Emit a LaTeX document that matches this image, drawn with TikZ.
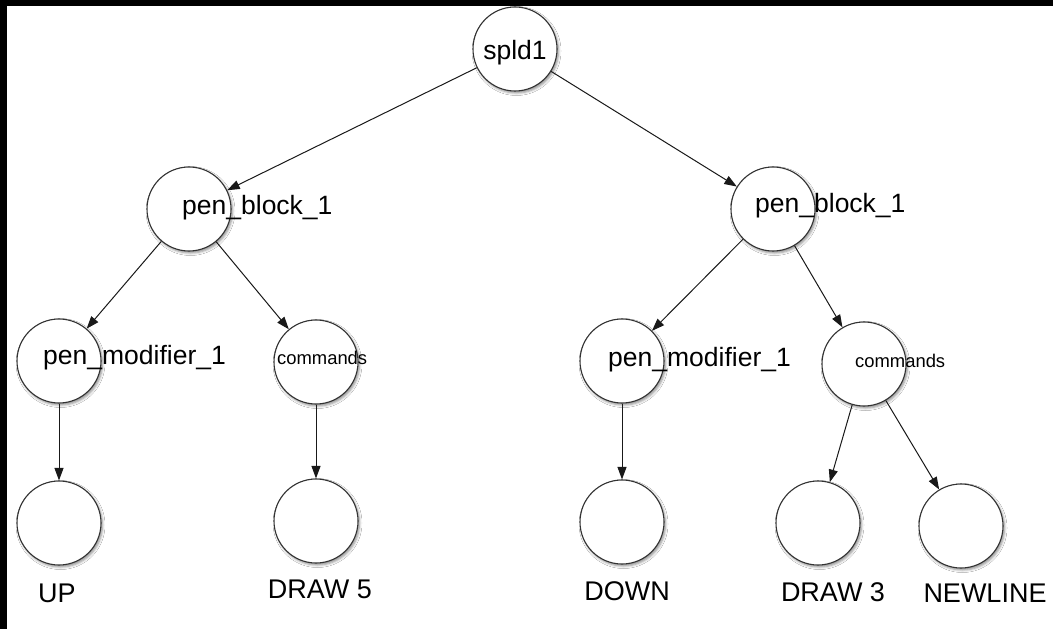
\documentclass[tikz,border=0pt]{standalone}
\usepackage{fontspec}
\setmainfont{Liberation Sans}
\usetikzlibrary{arrows.meta,shadows.blur}
\begin{document}
\begin{tikzpicture}[x=1bp,y=-1bp,
  treenode/.style={circle, draw=black!80, line width=1.1bp, fill=white,
    minimum size=84bp, inner sep=0pt,
    blur shadow={shadow xshift=1.5bp, shadow yshift=-2bp,
      shadow blur radius=2.5bp, shadow opacity=45}},
  bigtext/.style={inner sep=0pt, text=black,
    font=\fontsize{26.5bp}{30bp}\selectfont},
  leaftext/.style={inner sep=0pt, text=black,
    font=\fontsize{27bp}{30bp}\selectfont},
  smalltext/.style={inner sep=0pt, text=black,
    font=\fontsize{18.4bp}{21bp}\selectfont},
  link/.style={draw=black!90, line width=1bp,
    -{Triangle[length=12.5bp,width=9bp]}}]
% frame: black band along the top and left edges
\fill[black] (0,0) rectangle (1053,629);
\fill[white] (7,6) rectangle (1053,629);
\useasboundingbox (0,0) rectangle (1053,629);

% tree nodes
\node[treenode] (root) at (515,49) {};
\node[treenode] (pbL)  at (189,209) {};
\node[treenode] (pbR)  at (773,209) {};
\node[treenode] (pmL)  at (59,361) {};
\node[treenode] (cmL)  at (316,362) {};
\node[treenode] (pmR)  at (622,361) {};
\node[treenode] (cmR)  at (864,364) {};
\node[treenode] (up)   at (59,523) {};
\node[treenode] (dr5)  at (316,521) {};
\node[treenode] (down) at (622,522) {};
\node[treenode] (dr3)  at (818,523) {};
\node[treenode] (nl)   at (961,526) {};

% connectors
\draw[link] (root) -- (pbL);
\draw[link] (root) -- (pbR);
\draw[link] (pbL) -- (pmL);
\draw[link] (pbL) -- (cmL);
\draw[link] (pbR) -- (pmR);
\draw[link] (pbR) -- (cmR);
\draw[link] (pmL) -- (up);
\draw[link] (cmL) -- (dr5);
\draw[link] (pmR) -- (down);
\draw[link] (cmR) -- (dr3);
\draw[link] (cmR) -- (nl);

% labels
\node[bigtext, anchor=base] (troot) at (515,60) {spld1};
\node[bigtext, anchor=base west] (tpbL) at (182,215) {pen\_block\_1};
\node[bigtext, anchor=base west] (tpbR) at (755,213) {pen\_block\_1};
\node[bigtext, anchor=base west] (tpmL) at (43,364) {pen\_modifier\_1};
\node[smalltext, anchor=base west] (tcmL) at (277,364) {commands};
\node[bigtext, anchor=base west] (tpmR) at (608,366) {pen\_modifier\_1};
\node[smalltext, anchor=base west] (tcmR) at (855,367) {commands};
\node[leaftext, anchor=base] (tup)   at (57,602) {UP};
\node[leaftext, anchor=base] (tdr5)  at (320,598) {DRAW 5};
\node[leaftext, anchor=base] (tdown) at (627,600) {DOWN};
\node[leaftext, anchor=base] (tdr3)  at (833,601) {DRAW 3};
\node[leaftext, anchor=base] (tnl)   at (985,602) {NEWLINE};
\end{tikzpicture}
\end{document}
